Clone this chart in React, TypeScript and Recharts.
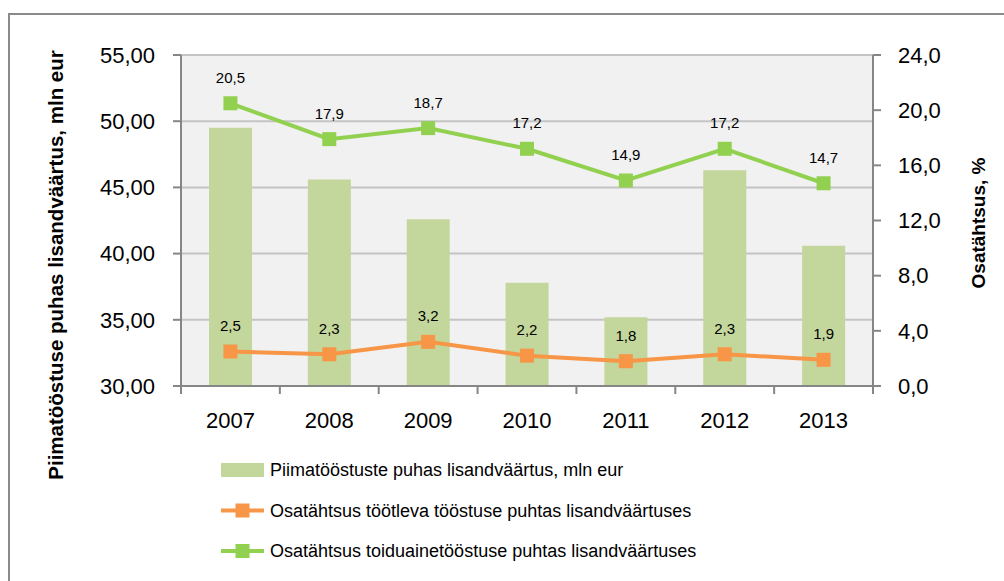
import React from 'react';
import { ComposedChart, Bar, Line, XAxis, YAxis, CartesianGrid, Legend } from 'recharts';

const years = ['2007', '2008', '2009', '2010', '2011', '2012', '2013'];
const dairyValueAdded = [49.5, 45.6, 42.6, 37.8, 35.2, 46.3, 40.6];
const shareManufacturing = [2.5, 2.3, 3.2, 2.2, 1.8, 2.3, 1.9];
const shareFood = [20.5, 17.9, 18.7, 17.2, 14.9, 17.2, 14.7];
const leftTicks = [30, 35, 40, 45, 50, 55];
const rightTicks = [0, 4, 8, 12, 16, 20, 24];
const seriesNames = [
  'Piimatööstuste puhas lisandväärtus, mln eur',
  'Osatähtsus töötleva tööstuse puhtas lisandväärtuses',
  'Osatähtsus toiduainetööstuse puhtas lisandväärtuses',
];
const leftTitle = 'Piimatööstuse puhas lisandväärtus, mln eur';
const rightTitle = 'Osatähtsus, %';

const data = years.map((y, i) => ({
  year: y,
  dairy: dairyValueAdded[i],
  manuf: shareManufacturing[i],
  food: shareFood[i],
}));

const FONT = "'Liberation Sans', Arial, sans-serif";
const AXIS = '#868686';
const GRID = '#c4c4c4';
const BAR = '#c3d69b';
const ORANGE = '#f79646';
const GREEN = '#92d050';
const PLOT_LEFT = 181;
const PLOT_RIGHT = 873;
const BAND = (PLOT_RIGHT - PLOT_LEFT) / years.length;

const fmt2 = (v: number) => v.toFixed(2).replace('.', ',');
const fmt1 = (v: number) => v.toFixed(1).replace('.', ',');

const XTick = (props: any) => {
  const { x, y, payload, index } = props;
  const half = BAND / 2;
  return (
    <g>
      <line x1={x - half} y1={y} x2={x - half} y2={y + 8} stroke={AXIS} strokeWidth={2} />
      {index === years.length - 1 && (
        <line x1={x + half} y1={y} x2={x + half} y2={y + 8} stroke={AXIS} strokeWidth={2} />
      )}
      <text x={x} y={y + 34} textAnchor="middle" dominantBaseline="central" fontSize={22} fontFamily={FONT} fill="#000">
        {payload.value}
      </text>
    </g>
  );
};

const squareDot = (color: string, size: number) => (p: any) => (
  <rect key={`d-${p.index}`} x={p.cx - size / 2} y={p.cy - size / 2} width={size} height={size} fill={color} />
);

const pointLabel = (p: any) => (
  <text
    key={`l-${p.index}`}
    x={p.x}
    y={p.y - 26}
    textAnchor="middle"
    dominantBaseline="central"
    fontSize={15}
    fontFamily={FONT}
    fill="#000"
  >
    {fmt1(p.value)}
  </text>
);

const LegendContent = () => {
  const rows = [0, 1, 2];
  return (
    <svg width={620} height={130}>
      {rows.map((i) => {
        const cy = 25 + i * 40.5;
        return (
          <g key={i}>
            {i === 0 ? (
              <rect x={21} y={cy - 7} width={43} height={14} fill={BAR} />
            ) : (
              <g>
                <line x1={21} y1={cy} x2={64} y2={cy} stroke={i === 1 ? ORANGE : GREEN} strokeWidth={4} />
                <rect x={35.5} y={cy - 7} width={14} height={14} fill={i === 1 ? ORANGE : GREEN} />
              </g>
            )}
            <text x={70} y={cy} dominantBaseline="central" fontSize={18} fontFamily={FONT} fill="#000">
              {seriesNames[i]}
            </text>
          </g>
        );
      })}
    </svg>
  );
};

export default function App() {
  return (
    <div style={{ position: 'absolute', left: 0, top: 0, width: 1004, height: 581, overflow: 'hidden', background: '#fff' }}>
      <div
        style={{
          position: 'absolute',
          left: 8,
          top: 13,
          width: 1100,
          height: 700,
          borderLeft: '2px solid #8a8a8a',
          borderTop: '2px solid #8a8a8a',
          boxSizing: 'border-box',
        }}
      />
      <div style={{ position: 'absolute', left: 0, top: 0 }}>
        <ComposedChart
          width={1004}
          height={581}
          data={data}
          margin={{ top: 55, right: 31, bottom: 135, left: 81 }}
        >
          <CartesianGrid
            yAxisId="left"
            vertical={false}
            horizontal
            fill="#f1f1f1"
            stroke={GRID}
            strokeWidth={2}
            fillOpacity={1}
          />
          <XAxis
            dataKey="year"
            height={60}
            tickLine={false}
            tickSize={0}
            tickMargin={0}
            axisLine={{ stroke: AXIS, strokeWidth: 2 }}
            tick={<XTick />}
            interval={0}
          />
          <YAxis
            yAxisId="left"
            orientation="left"
            width={100}
            domain={[30, 55]}
            ticks={leftTicks}
            tickFormatter={fmt2}
            tickSize={8}
            tickMargin={18}
            axisLine={{ stroke: AXIS, strokeWidth: 2 }}
            tickLine={{ stroke: AXIS, strokeWidth: 2 }}
            tick={{ fontSize: 22, fontFamily: FONT, fill: '#000' }}
            allowDataOverflow
            label={{
              content: () => (
                <text
                  transform="translate(55,265) rotate(-90)"
                  textAnchor="middle"
                  dominantBaseline="central"
                  fontSize={20.5}
                  fontWeight="bold"
                  fontFamily={FONT}
                  fill="#000"
                >
                  {leftTitle}
                </text>
              ),
            }}
          />
          <YAxis
            yAxisId="right"
            orientation="right"
            width={100}
            domain={[0, 24]}
            ticks={rightTicks}
            tickFormatter={fmt1}
            tickSize={8}
            tickMargin={17}
            axisLine={{ stroke: AXIS, strokeWidth: 2 }}
            tickLine={{ stroke: AXIS, strokeWidth: 2 }}
            tick={{ fontSize: 22, fontFamily: FONT, fill: '#000' }}
            label={{
              content: () => (
                <text
                  transform="translate(978,223) rotate(-90)"
                  textAnchor="middle"
                  dominantBaseline="central"
                  fontSize={19}
                  fontWeight="bold"
                  fontFamily={FONT}
                  fill="#000"
                >
                  {rightTitle}
                </text>
              ),
            }}
          />
          <Bar yAxisId="left" dataKey="dairy" name={seriesNames[0]} fill={BAR} barSize={43} isAnimationActive={false} />
          <Line
            yAxisId="right"
            dataKey="manuf"
            name={seriesNames[1]}
            stroke={ORANGE}
            strokeWidth={4}
            dot={squareDot(ORANGE, 14)}
            activeDot={false}
            label={pointLabel}
            isAnimationActive={false}
          />
          <Line
            yAxisId="right"
            dataKey="food"
            name={seriesNames[2]}
            stroke={GREEN}
            strokeWidth={4}
            dot={squareDot(GREEN, 14)}
            activeDot={false}
            label={pointLabel}
            isAnimationActive={false}
          />
          <Legend
            layout="vertical"
            align="center"
            verticalAlign="middle"
            content={<LegendContent />}
            wrapperStyle={{ position: 'absolute', left: 200, top: 445, width: 620, height: 130 }}
          />
        </ComposedChart>
      </div>
    </div>
  );
}
